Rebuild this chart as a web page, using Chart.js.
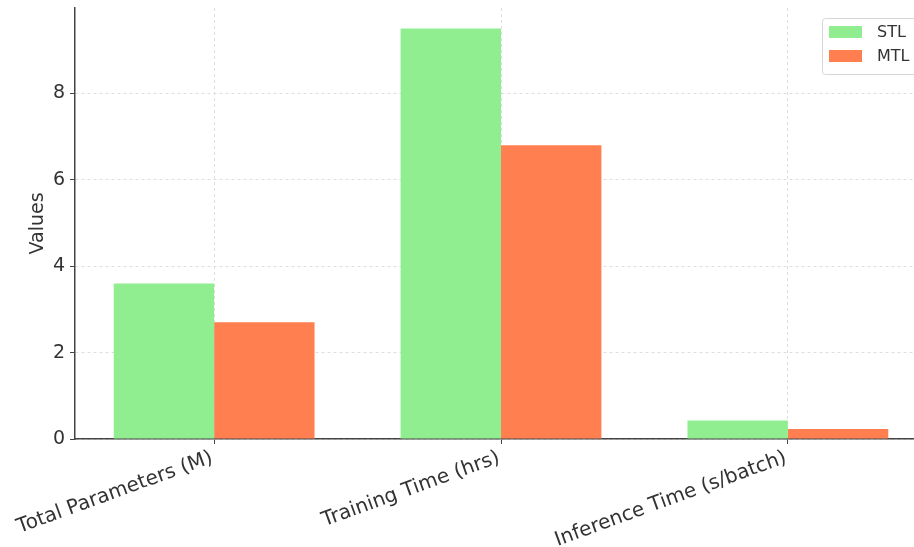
<!DOCTYPE html>
<html>
<head>
<meta charset="utf-8">
<script src="https://cdn.jsdelivr.net/npm/chart.js@4.4.1/dist/chart.umd.min.js"></script>
<style>
  html, body { margin: 0; padding: 0; background: #fff; overflow: hidden; }
  #wrap { width: 927px; height: 547px; }
</style>
</head>
<body>
<div id="wrap"><canvas id="cvs"></canvas></div>
<script>
// data
const categories = ['Total Parameters (M)', 'Training Time (hrs)', 'Inference Time (s/batch)']
const stl = [3.6, 9.5, 0.43]
const mtl = [2.7, 6.8, 0.23]
const yTicks = [0, 2, 4, 6, 8]

const font = 'DejaVu Sans'

// categories sit at x = 0, 1, 2 on a numeric axis so the side margins match matplotlib
const toPoints = arr => arr.map((v, i) => ({ x: i, y: v }))

// legend box drawn in the upper right like the matplotlib one
const boxLegend = {
  id: 'boxLegend',
  afterDraw(chart) {
    const ctx = chart.ctx
    const x = 822, y = 18, w = 100, h = 56
    ctx.save()
    ctx.fillStyle = 'rgba(255,255,255,0.85)'
    ctx.strokeStyle = '#d6d6d6'
    ctx.lineWidth = 1
    ctx.beginPath()
    ctx.roundRect(x + 0.5, y + 0.5, w, h, 3)
    ctx.fill()
    ctx.stroke()
    const items = [['STL', 'lightgreen'], ['MTL', 'coral']]
    items.forEach((it, i) => {
      const cy = y + 14 + i * 24
      ctx.fillStyle = it[1]
      ctx.fillRect(x + 7, cy - 6, 33, 12)
      ctx.fillStyle = '#333'
      ctx.font = '16px ' + font
      ctx.textBaseline = 'middle'
      ctx.fillText(it[0], x + 55, cy + 1)
    })
    ctx.restore()
  }
}

new Chart(document.getElementById('cvs'), {
  type: 'bar',
  data: {
    datasets: [
      { label: 'STL', data: toPoints(stl), backgroundColor: 'lightgreen', categoryPercentage: 0.7, barPercentage: 1.0 },
      { label: 'MTL', data: toPoints(mtl), backgroundColor: 'coral', categoryPercentage: 0.7, barPercentage: 1.0 }
    ]
  },
  options: {
    responsive: true,
    maintainAspectRatio: false,
    animation: false,
    layout: { padding: { top: 8, left: 27, right: 0, bottom: 0 } },
    plugins: {
      legend: { display: false },
      tooltip: { enabled: false }
    },
    scales: {
      x: {
        type: 'linear',
        offset: false,
        min: -0.485,
        max: 2.485,
        afterBuildTicks(scale) { scale.ticks = categories.map((c, i) => ({ value: i })) },
        grid: {
          offset: false,
          color: '#dedede',
          lineWidth: 1,
          tickColor: '#444',
          tickLength: 5
        },
        border: { color: '#444', width: 1.5, dash: [3, 3] },
        ticks: {
          minRotation: 20,
          maxRotation: 20,
          color: '#333',
          font: { family: font, size: 20 },
          padding: 2,
          labelOffset: -2,
          autoSkip: false,
          callback: v => categories[v]
        },
        afterFit(scale) {
          scale.height = 108
          scale.paddingLeft = 0
          scale.paddingRight = 0
        }
      },
      y: {
        min: 0,
        max: 9.975,
        afterBuildTicks(scale) { scale.ticks = yTicks.map(v => ({ value: v })) },
        grid: {
          color: '#dedede',
          lineWidth: 1,
          tickColor: '#444',
          tickLength: 5
        },
        border: { color: '#444', width: 1.5, dash: [3, 3] },
        ticks: {
          color: '#333',
          font: { family: font, size: 19 },
          padding: 5
        },
        title: {
          display: true,
          text: 'Values',
          color: '#333',
          font: { family: font, size: 19 },
          padding: { top: 0, bottom: 3 }
        },
        afterFit(scale) {
          scale.width = 48
          scale.paddingTop = 0
          scale.paddingBottom = 0
        }
      }
    }
  },
  plugins: [boxLegend]
})
</script>
</body>
</html>
